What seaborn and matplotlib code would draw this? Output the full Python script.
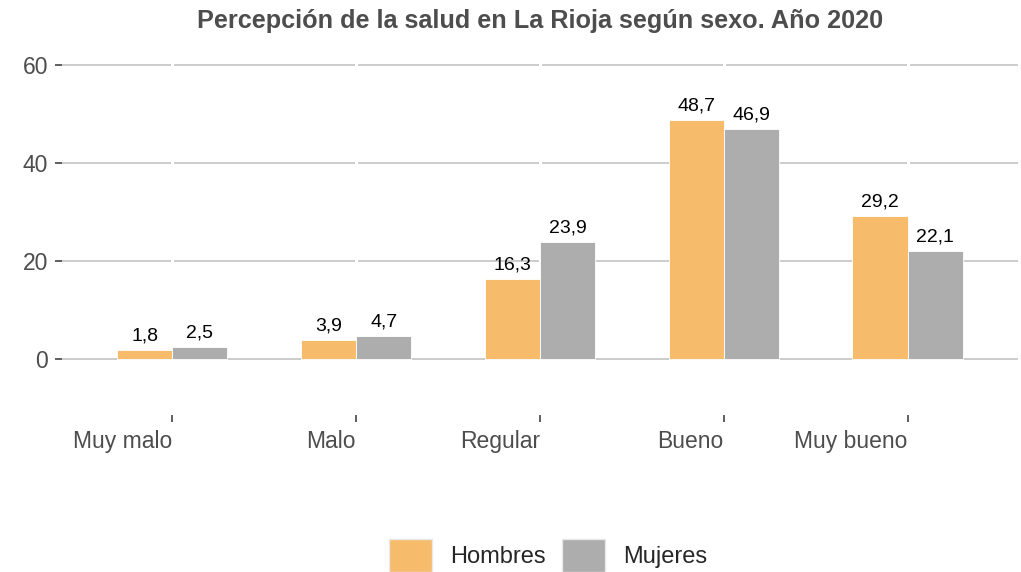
import pandas as pd
import matplotlib
matplotlib.use("Agg")
import matplotlib.pyplot as plt
import seaborn as sns

# Datos: percepción de la salud (%) por sexo
categorias = ["Muy malo", "Malo", "Regular", "Bueno", "Muy bueno"]
hombres = [1.8, 3.9, 16.3, 48.7, 29.2]
mujeres = [2.5, 4.7, 23.9, 46.9, 22.1]
sexos = ["Hombres", "Mujeres"]
colores = ["#F7BB6C", "#ADADAD"]

df = pd.DataFrame({
    "categoria": categorias * 2,
    "sexo": [sexos[0]] * len(categorias) + [sexos[1]] * len(categorias),
    "valor": hombres + mujeres,
})

sns.set_theme(style="white")
plt.rcParams["font.family"] = ["Liberation Sans", "DejaVu Sans"]

fig = plt.figure(figsize=(10.21, 5.72), dpi=100)
ax = fig.add_axes([0.0607, 0.2745, 0.9363, 0.638])

sns.barplot(data=df, x="categoria", y="valor", hue="sexo", order=categorias,
            hue_order=sexos, palette=colores, saturation=1, width=0.6,
            edgecolor="white", linewidth=0.6, ax=ax)

# etiquetas con coma decimal
for cont, vals in zip(ax.containers, [hombres, mujeres]):
    ax.bar_label(cont, labels=[f"{v:.1f}".replace(".", ",") for v in vals],
                 padding=4, fontsize=14, color="black")

ax.set_xlim(-0.6, 4.6)
ax.set_ylim(-11.43, 63.06)
ax.set_yticks([0, 20, 40, 60])
ax.set_xlabel("")
ax.set_ylabel("")
for s in ax.spines.values():
    s.set_visible(False)

ax.grid(axis="y", color="#BEBEBE", linewidth=1.1)
ax.grid(axis="x", color="white", linewidth=2.2)
ax.yaxis.set_zorder(0.6)
ax.xaxis.set_zorder(0.7)

ax.tick_params(axis="both", bottom=True, left=True, length=5, width=1.1,
               color="#333333", labelcolor="#4D4D4D", labelsize=16.5, pad=5)
ax.tick_params(axis="x", pad=6)
for lbl in ax.get_xticklabels():
    lbl.set_ha("right")

ax.set_title("Percepción de la salud en La Rioja según sexo. Año 2020",
             fontsize=18.2, fontweight="bold", color="#4D4D4D", pad=16)

handles, labels = ax.get_legend_handles_labels()
if ax.get_legend() is not None:
    ax.get_legend().remove()
leg = fig.legend(handles, labels, loc="center", bbox_to_anchor=(0.537, 0.029),
                 ncol=2, frameon=False, fontsize=17, handlelength=1.82,
                 handleheight=1.82, handletextpad=0.76, columnspacing=0.68)
for p in leg.get_patches():
    p.set_edgecolor("#E8E8E8")
    p.set_linewidth(1)

fig.savefig("out.png", dpi=100)
